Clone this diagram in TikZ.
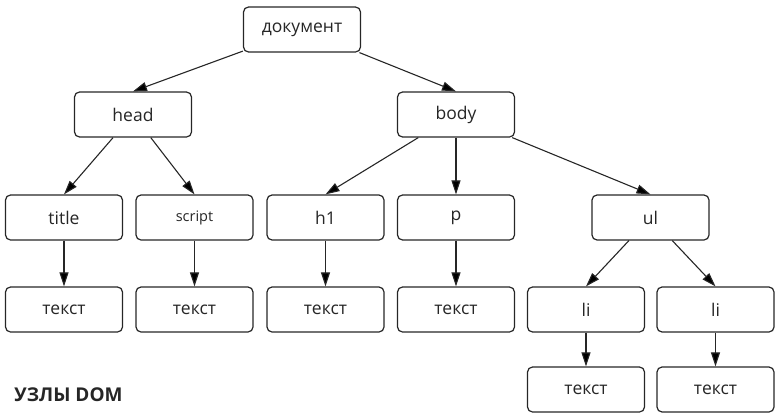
\documentclass[tikz,border=0pt]{standalone}
\usepackage{fontspec}
\setmainfont{Open Sans}
\usetikzlibrary{arrows.meta, positioning}

\begin{document}
\begin{tikzpicture}[x=1pt, y=1pt, on grid, >={Triangle[length=14pt, width=9pt]},
  elem/.style={rectangle, rounded corners=5pt, draw=black!85, line width=1.2pt, minimum width=117pt, minimum height=45pt, inner sep=0pt, align=center, text=black!85, font=\fontsize{17.5}{20}\selectfont},
  link/.style={->, draw=black!85, line width=1.1pt}]

        \useasboundingbox (0,0) rectangle (775,-415);

        \node[elem] (doc) at (302,-29.5) {документ};

        \node[elem, below left=85pt and 169pt of doc] (head) {head};
        \node[elem, below right=85pt and 154pt of doc] (body) {body};

        \node[elem, below left=103pt and 69pt of head] (title) {title};
        \node[elem, below right=103pt and 61.5pt of head, font=\fontsize{14.5}{17}\selectfont] (script) {script};
        \node[elem, below left=103pt and 130.5pt of body] (h1) {h1};
        \node[elem, below=103pt of body] (p) {p};
        \node[elem, below right=103pt and 194.5pt of body] (ul) {ul};

        \node[elem, below=92pt of title] (titletext) {текст};
        \node[elem, below=92pt of script] (scripttext) {текст};
        \node[elem, below=92pt of h1] (h1text) {текст};
        \node[elem, below=92pt of p] (ptext) {текст};
        \node[elem, below left=92pt and 64.5pt of ul] (li1) {li};
        \node[elem, below right=92pt and 65pt of ul] (li2) {li};

        \node[elem, below=80pt of li1] (li1text) {текст};
        \node[elem, below=80pt of li2] (li2text) {текст};

        \node[text=black!85, font=\bfseries\fontsize{19}{22}\selectfont] (caption) at (68.5,-394.5) {УЗЛЫ DOM};

        \path[link]
        (doc) edge (head.north)
        (doc) edge (body.north)
        (head) edge (title.north)
        (head) edge (script.north)
        (body) edge (h1.north)
        (body) edge (p.north)
        (body) edge (ul.north)
        (title) edge (titletext)
        (script) edge (scripttext)
        (h1) edge (h1text)
        (p) edge (ptext)
        (ul) edge (li1.north)
        (ul) edge (li2.north)
        (li1) edge (li1text)
        (li2) edge (li2text);

\end{tikzpicture}
\end{document}
